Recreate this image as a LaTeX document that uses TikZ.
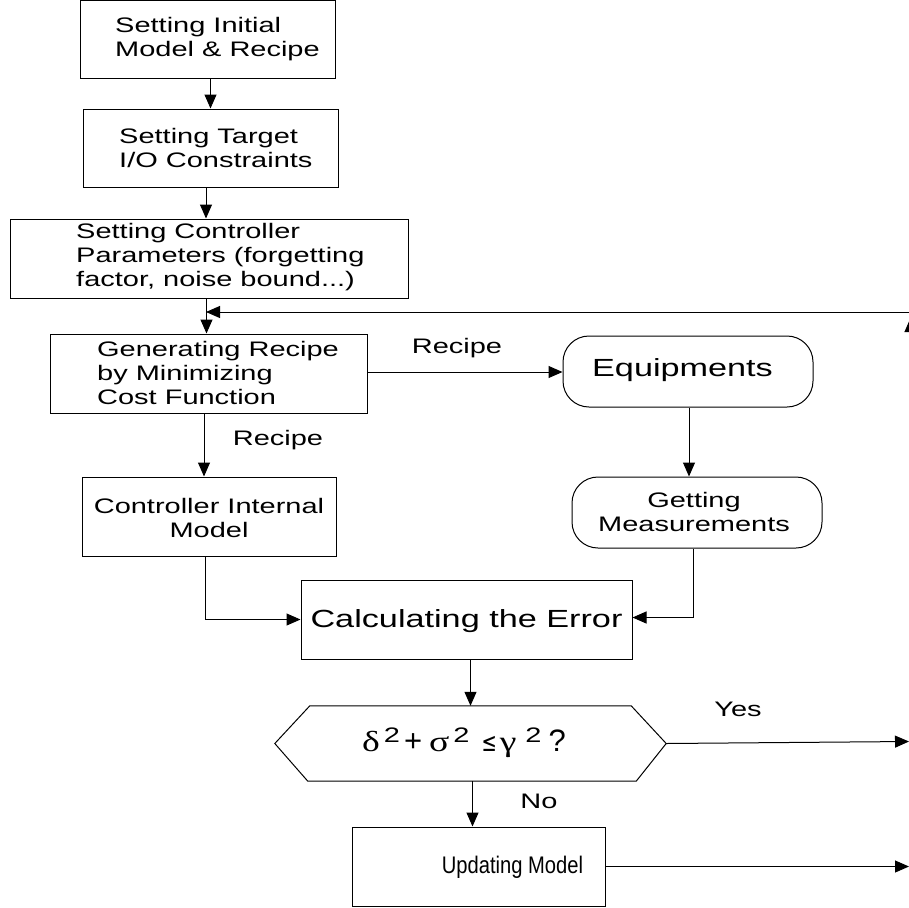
\documentclass[tikz,border=0pt]{standalone}
\usepackage{fontspec}
\setmainfont{Liberation Sans}[FakeStretch=1.38]
\newfontfamily\plainsans{Liberation Sans}
\newfontfamily\updfont{Liberation Sans}[FakeStretch=0.84]
\newfontfamily\grkfont{Liberation Serif}[FakeStretch=1.3]
\newfontfamily\symbfont{DejaVu Sans}[FakeStretch=0.7]
\usetikzlibrary{arrows.meta}
\newcommand\supii{\raisebox{9pt}{\normalfont\fontsize{21}{21}\selectfont 2}}
\newcommand\grk[1]{{\grkfont\fontsize{29}{29}\selectfont #1}}
\begin{document}
\begin{tikzpicture}[x=1pt,y=-1pt,
  box/.style={draw, line width=1pt, inner sep=0pt},
  rbox/.style={draw, line width=1pt, inner sep=0pt, rounded corners=26pt},
  txt/.style={inner sep=0pt, font=\fontsize{21}{24}\selectfont},
  bigtxt/.style={inner sep=0pt, font=\fontsize{24.8}{28}\selectfont},
  conn/.style={line width=1pt, -{Triangle[length=14pt,width=12pt]}}]
\useasboundingbox (0,0) rectangle (909,907);
\clip (0,0) rectangle (909,907);
% boxes
\node[box, minimum width=255, minimum height=78] (box1) at (207.5,39.5) {};
\node[box, minimum width=255, minimum height=78] (box2) at (210.5,148) {};
\node[box, minimum width=398, minimum height=79] (box3) at (209,258.5) {};
\node[box, minimum width=317, minimum height=79] (box4) at (208.5,373.5) {};
\node[rbox, minimum width=250, minimum height=71] (eq) at (688,371.5) {};
\node[box, minimum width=254, minimum height=79] (box5) at (209,516.5) {};
\node[rbox, minimum width=250, minimum height=71] (gm) at (697,512.5) {};
\node[box, minimum width=331, minimum height=79] (calc) at (466.5,619.5) {};
\node[inner sep=0pt, minimum width=391, minimum height=75] (hex) at (470.5,743.5) {};
\draw[line width=1pt] ([xshift=35pt]hex.north west) -- ([xshift=-35pt]hex.north east)
  -- (hex.east) -- ([xshift=-30pt]hex.south east) -- ([xshift=33pt]hex.south west)
  -- (hex.west) -- cycle;
\node[box, minimum width=253, minimum height=79] (upd) at (478.5,866.5) {};
% texts
\node[txt, anchor=west, align=left] (t1) at (115,39) {Setting Initial\\Model \& Recipe};
\node[txt, anchor=west, align=left] (t2) at (119,148) {Setting Target\\I/O Constraints};
\node[txt, anchor=west, align=left] (t3) at (76,257) {Setting Controller\\Parameters (forgetting\\factor, noise bound...)};
\node[txt, anchor=west, align=left] (t4) at (97,373) {Generating Recipe\\by Minimizing\\Cost Function};
\node[txt, align=center] (t5) at (209,518) {Controller Internal\\Model};
\node[bigtxt] (teq) at (682.5,370) {Equipments};
\node[txt, align=center] (tgm) at (694,511.5) {Getting\\Measurements};
\node[bigtxt] (tcalc) at (466.5,621) {Calculating the Error};
\node[inner sep=0pt, anchor=base, font=\plainsans\fontsize{31}{31}\selectfont] (thex) at (464,751)
  {\grk{δ}\hspace{4pt}\supii\hspace{4pt}+\hspace{7pt}\grk{σ}\hspace{4pt}\supii\hspace{12pt}{\symbfont\fontsize{26}{26}\selectfont ≤}\hspace{3pt}\grk{γ}\hspace{9pt}\supii\hspace{7pt}?};
\node[inner sep=0pt, font=\updfont\fontsize{24}{24}\selectfont] (tupd) at (512.5,867) {Updating Model};
% labels
\node[txt] (lrec1) at (457,348) {Recipe};
\node[txt] (lrec2) at (278,440) {Recipe};
\node[txt] (lyes) at (738,709) {Yes};
\node[txt] (lno) at (539,801) {No};
% free-end coordinates
\coordinate (fbstart) at (909,312);
\coordinate (fbhit) at (206,312);
\coordinate (upin) at (910.5,420);
\coordinate (uptip) at (910.5,318);
\coordinate (yesend) at (909,741.5);
\coordinate (updend) at (909,866.5);
% connectors
\draw[conn] (box2.north |- box1.south) -- (box2.north);
\draw[conn] ([xshift=-3pt]box3.north |- box2.south) -- ([xshift=-3pt]box3.north);
\draw[conn] ([xshift=-2pt]box4.north |- box3.south) -- ([xshift=-2pt]box4.north);
\draw[conn] (fbstart) -- (fbhit);
\draw[conn] (upin) -- (uptip);
\draw[conn] ([yshift=1.5pt]box4.east) -- ([yshift=1.5pt]box4.east -| eq.west);
\draw[conn] ([xshift=-5pt]box5.north |- box4.south) -- ([xshift=-5pt]box5.north);
\draw[conn] ([xshift=1pt]eq.south) -- ([xshift=1pt]eq.south |- gm.north);
\draw[conn] ([xshift=-4pt]gm.south) |- ([yshift=2pt]calc.east);
\draw[conn] ([xshift=-4pt]box5.south) |- (calc.west);
\draw[conn] (hex.north |- calc.south) -- (hex.north);
\draw[conn] (hex.east) -- (yesend);
\draw[conn] ([xshift=2pt]hex.south) -- ([xshift=2pt]hex.south |- upd.north);
\draw[conn] (upd.east) -- (updend);
\end{tikzpicture}
\end{document}
